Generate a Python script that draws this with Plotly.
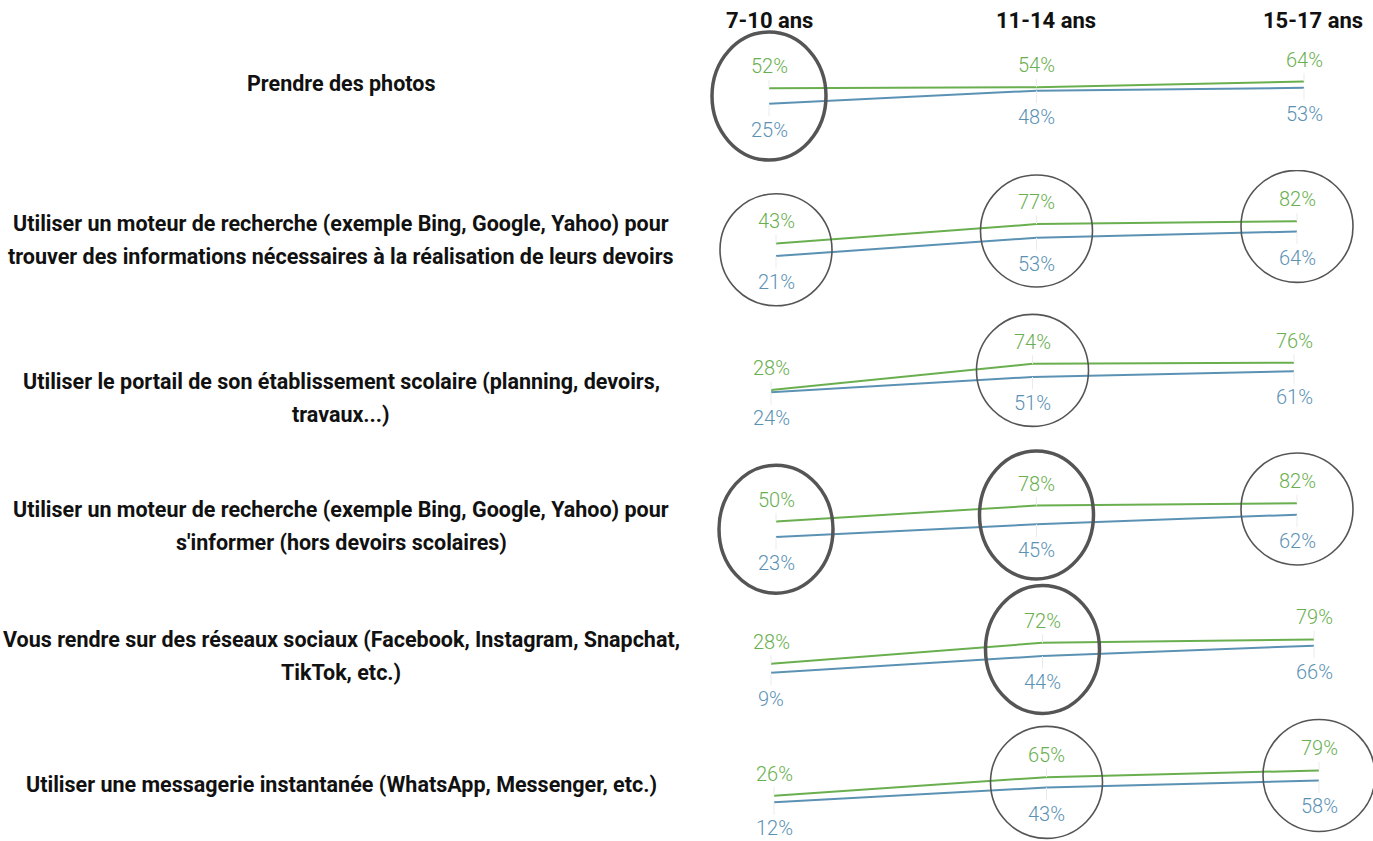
import plotly.graph_objects as go

# ---- data ----
ages = ['7-10 ans', '11-14 ans', '15-17 ans']

activities = [
    'Prendre des photos',
    'Utiliser un moteur de recherche (exemple Bing, Google, Yahoo) pour\n'
    'trouver des informations nécessaires à la réalisation de leurs devoirs',
    'Utiliser le portail de son établissement scolaire (planning, devoirs,\ntravaux...)',
    "Utiliser un moteur de recherche (exemple Bing, Google, Yahoo) pour\ns'informer (hors devoirs scolaires)",
    'Vous rendre sur des réseaux sociaux (Facebook, Instagram, Snapchat,\nTikTok, etc.)',
    'Utiliser une messagerie instantanée (WhatsApp, Messenger, etc.)',
]

green_vals = [
    [52, 54, 64],
    [43, 77, 82],
    [28, 74, 76],
    [50, 78, 82],
    [28, 72, 79],
    [26, 65, 79],
]

blue_vals = [
    [25, 48, 53],
    [21, 53, 64],
    [24, 51, 61],
    [23, 45, 62],
    [9, 44, 66],
    [12, 43, 58],
]

# circled cells: (row, age index, thick outline)
highlights = [
    (0, 0, True),
    (1, 0, False), (1, 1, False), (1, 2, False),
    (2, 1, False),
    (3, 0, True), (3, 1, True), (3, 2, False),
    (4, 1, True),
    (5, 1, False), (5, 2, False),
]

# ---- layout geometry (pixels) ----
W, H = 1373, 841
GREEN = '#6aaf4f'
BLUE = '#5b92b4'
RING = '#555555'
FONT = 'Roboto, Arial, sans-serif'

# x pixel of first / last age point for each row
row_x = [(769, 1304), (776, 1297), (771, 1294), (776, 1297), (771, 1314), (774, 1319)]
# pixel of 0 % and pixels per percentage point
row_zero = [118, 268, 406, 550, 677, 808]
row_scale = [0.57, 0.57, 0.57, 0.57, 0.475, 0.475]
# vertical band (top, bottom) of each small chart, wide enough for the rings
row_band = [(20, 175), (170, 315), (305, 450), (440, 600), (575, 730), (705, 841)]
# vertical centre of the left-hand labels
label_y = [84, 240, 398, 526, 656, 784]
LINE_GAP = 33
X_LEFT, X_RIGHT = 700, 1373
header_shift = [0, 9, 9]

fig = go.Figure()

for i in range(len(activities)):
    n = '' if i == 0 else str(i + 1)
    xa, ya = 'x' + n, 'y' + n

    x0, x1 = row_x[i]
    ppu = (x1 - x0) / 2
    z, s = row_zero[i], row_scale[i]
    top, bot = row_band[i]

    fig.update_layout(**{
        'xaxis' + n: dict(domain=[X_LEFT / W, X_RIGHT / W], type='category',
                          range=[(X_LEFT - x0) / ppu, (X_RIGHT - x0) / ppu],
                          visible=False, anchor=ya, fixedrange=True),
        'yaxis' + n: dict(domain=[1 - bot / H, 1 - top / H],
                          range=[-(bot - z) / s, (z - top) / s],
                          visible=False, anchor=xa, fixedrange=True),
    })

    fig.add_trace(go.Scatter(x=ages, y=blue_vals[i], mode='lines',
                             line=dict(color=BLUE, width=2),
                             xaxis=xa, yaxis=ya, showlegend=False, hoverinfo='skip'))
    fig.add_trace(go.Scatter(x=ages, y=green_vals[i], mode='lines',
                             line=dict(color=GREEN, width=2),
                             xaxis=xa, yaxis=ya, showlegend=False, hoverinfo='skip'))

    for j, age in enumerate(ages):
        for val, col, off in ((green_vals[i][j], GREEN, -22), (blue_vals[i][j], BLUE, 26)):
            fig.add_annotation(
                x=age, y=val, xref=xa, yref=ya,
                text=f'{val}%', showarrow=True, ax=0, ay=off,
                arrowhead=0, arrowwidth=1, arrowcolor='#ebebeb', standoff=0,
                font=dict(family=FONT, size=20, color=col, weight=300),
            )

    # row label, one annotation per line
    lines = activities[i].split('\n')
    for k, txt in enumerate(lines):
        yc = label_y[i] + (k - (len(lines) - 1) / 2) * LINE_GAP
        fig.add_annotation(
            x=341 / W, y=1 - yc / H, xref='paper', yref='paper',
            text=txt, showarrow=False, xanchor='center', yanchor='middle',
            font=dict(family=FONT, size=21.5, color='#111111', weight='bold'),
        )

# column headers
for age, dx in zip(ages, header_shift):
    fig.add_annotation(
        x=age, y=1 - 20 / H, xref='x', yref='paper', text=age, xshift=dx,
        showarrow=False, xanchor='center', yanchor='middle',
        font=dict(family=FONT, size=22, color='#111111', weight='bold'),
    )

# rings around highlighted cells
for r, j, thick in highlights:
    n = '' if r == 0 else str(r + 1)
    rx, ry = (57, 64) if thick else (56, 56)
    fig.add_shape(
        type='circle', xref='x' + n, yref='y' + n,
        xsizemode='pixel', ysizemode='pixel',
        xanchor=ages[j], yanchor=(green_vals[r][j] + blue_vals[r][j]) / 2,
        x0=-rx, x1=rx, y0=-ry, y1=ry,
        line=dict(color=RING, width=3.5 if thick else 1.6),
    )

fig.update_layout(
    width=W, height=H,
    margin=dict(l=0, r=0, t=0, b=0),
    paper_bgcolor='white', plot_bgcolor='rgba(0,0,0,0)',
    showlegend=False,
)

fig.write_html('out.html', config={'displayModeBar': False},
               post_script="document.body.style.margin='0px';")
